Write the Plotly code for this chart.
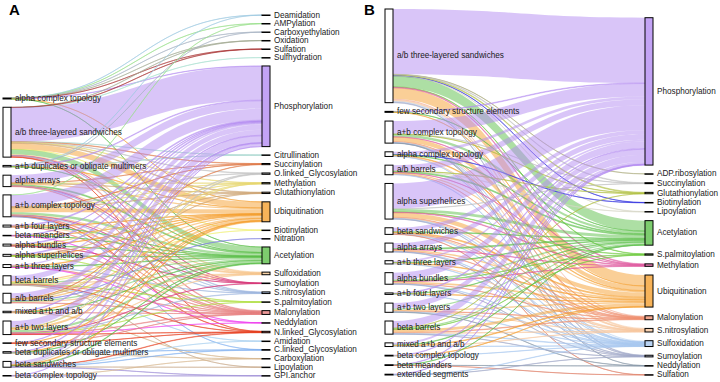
import plotly.graph_objects as go

FIG_W, FIG_H = 720, 382

# ---------------- Panel A data ----------------
a_left = ["alpha complex topology", "a/b three-layered sandwiches", "a+b duplicates or obligate multimers",
          "alpha arrays", "a+b complex topology", "a+b four layers", "beta meanders", "alpha bundles",
          "alpha superhelices", "a+b three layers", "beta barrels", "a/b barrels", "mixed a+b and a/b",
          "a+b two layers", "few secondary structure elements", "beta duplicates or obligate multimers",
          "beta sandwiches", "beta complex topology"]
a_right = ["Deamidation", "AMPylation", "Carboxyethylation", "Oxidation", "Sulfation", "Sulfhydration",
           "Phosphorylation", "Citrullination", "Succinylation", "O.linked_Glycosylation", "Methylation",
           "Glutathionylation", "Ubiquitination", "Biotinylation", "Nitration", "Acetylation", "Sulfoxidation",
           "Sumoylation", "S.nitrosylation", "S.palmitoylation", "Malonylation", "Neddylation",
           "N.linked_Glycosylation", "Amidation", "C.linked_Glycosylation", "Carboxylation", "Lipoylation",
           "GPI.anchor"]
a_links = [
    ("alpha complex topology", "Deamidation", 1), ("alpha complex topology", "AMPylation", 1),
    ("alpha complex topology", "Carboxyethylation", 1), ("alpha complex topology", "Oxidation", 1),
    ("alpha complex topology", "Sulfation", 1), ("alpha complex topology", "Phosphorylation", 3),
    ("alpha complex topology", "Ubiquitination", 1), ("alpha complex topology", "Acetylation", 1),
    ("a/b three-layered sandwiches", "Sulfhydration", 1), ("a/b three-layered sandwiches", "Oxidation", 1),
    ("a/b three-layered sandwiches", "Sulfation", 2), ("a/b three-layered sandwiches", "Phosphorylation", 350),
    ("a/b three-layered sandwiches", "Citrullination", 2), ("a/b three-layered sandwiches", "Succinylation", 4),
    ("a/b three-layered sandwiches", "O.linked_Glycosylation", 3), ("a/b three-layered sandwiches", "Methylation", 4),
    ("a/b three-layered sandwiches", "Glutathionylation", 6), ("a/b three-layered sandwiches", "Ubiquitination", 60),
    ("a/b three-layered sandwiches", "Biotinylation", 1), ("a/b three-layered sandwiches", "Acetylation", 55),
    ("a/b three-layered sandwiches", "Sulfoxidation", 8), ("a/b three-layered sandwiches", "Sumoylation", 2),
    ("a/b three-layered sandwiches", "S.nitrosylation", 6), ("a/b three-layered sandwiches", "Malonylation", 8),
    ("a/b three-layered sandwiches", "N.linked_Glycosylation", 2),
    ("a+b duplicates or obligate multimers", "Deamidation", 1), ("a+b duplicates or obligate multimers", "Carboxyethylation", 1),
    ("a+b duplicates or obligate multimers", "Phosphorylation", 7), ("a+b duplicates or obligate multimers", "Citrullination", 1),
    ("a+b duplicates or obligate multimers", "Ubiquitination", 3), ("a+b duplicates or obligate multimers", "Acetylation", 2),
    ("alpha arrays", "Phosphorylation", 80), ("alpha arrays", "Succinylation", 2), ("alpha arrays", "Methylation", 2),
    ("alpha arrays", "Glutathionylation", 2), ("alpha arrays", "Ubiquitination", 12), ("alpha arrays", "Acetylation", 10),
    ("alpha arrays", "Sulfoxidation", 3), ("alpha arrays", "Sumoylation", 1), ("alpha arrays", "S.nitrosylation", 2),
    ("alpha arrays", "Malonylation", 4),
    ("a+b complex topology", "AMPylation", 1), ("a+b complex topology", "Phosphorylation", 120),
    ("a+b complex topology", "Succinylation", 3), ("a+b complex topology", "O.linked_Glycosylation", 4),
    ("a+b complex topology", "Methylation", 3), ("a+b complex topology", "Glutathionylation", 3),
    ("a+b complex topology", "Ubiquitination", 45), ("a+b complex topology", "Acetylation", 25),
    ("a+b complex topology", "Sulfoxidation", 5), ("a+b complex topology", "Sumoylation", 1),
    ("a+b complex topology", "S.nitrosylation", 4), ("a+b complex topology", "Malonylation", 7),
    ("a+b complex topology", "N.linked_Glycosylation", 3), ("a+b complex topology", "C.linked_Glycosylation", 2),
    ("a+b four layers", "Phosphorylation", 10), ("a+b four layers", "Ubiquitination", 4), ("a+b four layers", "Acetylation", 3),
    ("a+b four layers", "Sulfoxidation", 1), ("a+b four layers", "Malonylation", 2),
    ("beta meanders", "Phosphorylation", 2), ("beta meanders", "Ubiquitination", 1), ("beta meanders", "Acetylation", 1),
    ("beta meanders", "Neddylation", 1),
    ("alpha bundles", "Phosphorylation", 9), ("alpha bundles", "Methylation", 1), ("alpha bundles", "Ubiquitination", 4),
    ("alpha bundles", "Acetylation", 4), ("alpha bundles", "Sumoylation", 1), ("alpha bundles", "Malonylation", 1),
    ("alpha superhelices", "Phosphorylation", 10), ("alpha superhelices", "Glutathionylation", 1),
    ("alpha superhelices", "Ubiquitination", 4), ("alpha superhelices", "Acetylation", 4), ("alpha superhelices", "S.palmitoylation", 1),
    ("a+b three layers", "Phosphorylation", 14), ("a+b three layers", "Ubiquitination", 6), ("a+b three layers", "Acetylation", 6),
    ("a+b three layers", "S.nitrosylation", 1), ("a+b three layers", "Malonylation", 2), ("a+b three layers", "Neddylation", 1),
    ("beta barrels", "Phosphorylation", 55), ("beta barrels", "Ubiquitination", 14), ("beta barrels", "Biotinylation", 1),
    ("beta barrels", "Acetylation", 12), ("beta barrels", "Sulfoxidation", 3), ("beta barrels", "S.palmitoylation", 2),
    ("beta barrels", "Malonylation", 4), ("beta barrels", "N.linked_Glycosylation", 2), ("beta barrels", "Amidation", 1),
    ("beta barrels", "Lipoylation", 1),
    ("a/b barrels", "Phosphorylation", 55), ("a/b barrels", "Succinylation", 3), ("a/b barrels", "Methylation", 2),
    ("a/b barrels", "Glutathionylation", 2), ("a/b barrels", "Ubiquitination", 15), ("a/b barrels", "Nitration", 1),
    ("a/b barrels", "Acetylation", 15), ("a/b barrels", "Sulfoxidation", 3), ("a/b barrels", "Malonylation", 4),
    ("mixed a+b and a/b", "Phosphorylation", 7), ("mixed a+b and a/b", "Ubiquitination", 3), ("mixed a+b and a/b", "Acetylation", 3),
    ("mixed a+b and a/b", "Malonylation", 1), ("mixed a+b and a/b", "Carboxylation", 1),
    ("a+b two layers", "Phosphorylation", 70), ("a+b two layers", "O.linked_Glycosylation", 2), ("a+b two layers", "Methylation", 1),
    ("a+b two layers", "Ubiquitination", 22), ("a+b two layers", "Acetylation", 25), ("a+b two layers", "Sulfoxidation", 4),
    ("a+b two layers", "Sumoylation", 1), ("a+b two layers", "S.nitrosylation", 4), ("a+b two layers", "S.palmitoylation", 2),
    ("a+b two layers", "Malonylation", 5), ("a+b two layers", "Neddylation", 1), ("a+b two layers", "N.linked_Glycosylation", 3),
    ("few secondary structure elements", "Phosphorylation", 2), ("few secondary structure elements", "Ubiquitination", 1),
    ("few secondary structure elements", "Malonylation", 1), ("few secondary structure elements", "N.linked_Glycosylation", 1),
    ("beta duplicates or obligate multimers", "Phosphorylation", 7), ("beta duplicates or obligate multimers", "Ubiquitination", 3),
    ("beta duplicates or obligate multimers", "Acetylation", 2), ("beta duplicates or obligate multimers", "C.linked_Glycosylation", 2),
    ("beta duplicates or obligate multimers", "Carboxylation", 1),
    ("beta sandwiches", "Phosphorylation", 30), ("beta sandwiches", "O.linked_Glycosylation", 5), ("beta sandwiches", "Ubiquitination", 8),
    ("beta sandwiches", "Acetylation", 6), ("beta sandwiches", "N.linked_Glycosylation", 4), ("beta sandwiches", "Amidation", 1),
    ("beta sandwiches", "C.linked_Glycosylation", 3), ("beta sandwiches", "Lipoylation", 1), ("beta sandwiches", "GPI.anchor", 2),
    ("beta complex topology", "Phosphorylation", 2), ("beta complex topology", "Carboxylation", 1), ("beta complex topology", "GPI.anchor", 2),
]

# ---------------- Panel B data ----------------
b_left = ["a/b three-layered sandwiches", "few secondary structure elements", "a+b complex topology",
          "alpha complex topology", "a/b barrels", "alpha superhelices", "beta sandwiches", "alpha arrays",
          "a+b three layers", "alpha bundles", "a+b four layers", "a+b two layers", "beta barrels",
          "mixed a+b and a/b", "beta complex topology", "beta meanders", "extended segments"]
b_right = ["Phosphorylation", "ADP.ribosylation", "Succinylation", "Glutathionylation", "Biotinylation",
           "Lipoylation", "Acetylation", "S.palmitoylation", "Methylation", "Ubiquitination", "Malonylation",
           "S.nitrosylation", "Sulfoxidation", "Sumoylation", "Neddylation", "Sulfation"]
b_links = [
    ("a/b three-layered sandwiches", "Phosphorylation", 660), ("a/b three-layered sandwiches", "ADP.ribosylation", 2),
    ("a/b three-layered sandwiches", "Succinylation", 6), ("a/b three-layered sandwiches", "Glutathionylation", 8),
    ("a/b three-layered sandwiches", "Biotinylation", 2), ("a/b three-layered sandwiches", "Lipoylation", 3),
    ("a/b three-layered sandwiches", "Acetylation", 105), ("a/b three-layered sandwiches", "S.palmitoylation", 4),
    ("a/b three-layered sandwiches", "Methylation", 8), ("a/b three-layered sandwiches", "Ubiquitination", 110),
    ("a/b three-layered sandwiches", "Malonylation", 12), ("a/b three-layered sandwiches", "S.nitrosylation", 10),
    ("a/b three-layered sandwiches", "Sulfoxidation", 12), ("a/b three-layered sandwiches", "Sumoylation", 5),
    ("few secondary structure elements", "Phosphorylation", 6), ("few secondary structure elements", "Acetylation", 2),
    ("few secondary structure elements", "Ubiquitination", 2),
    ("a+b complex topology", "Phosphorylation", 130), ("a+b complex topology", "Succinylation", 2),
    ("a+b complex topology", "Glutathionylation", 2), ("a+b complex topology", "Acetylation", 25),
    ("a+b complex topology", "Methylation", 3), ("a+b complex topology", "Ubiquitination", 45),
    ("a+b complex topology", "Malonylation", 4), ("a+b complex topology", "S.nitrosylation", 4),
    ("a+b complex topology", "Sulfoxidation", 5), ("a+b complex topology", "Sumoylation", 2),
    ("a+b complex topology", "Neddylation", 1),
    ("alpha complex topology", "Phosphorylation", 28), ("alpha complex topology", "Biotinylation", 2),
    ("alpha complex topology", "Acetylation", 6), ("alpha complex topology", "Ubiquitination", 7),
    ("alpha complex topology", "S.nitrosylation", 2), ("alpha complex topology", "Sulfoxidation", 2),
    ("a/b barrels", "Phosphorylation", 60), ("a/b barrels", "Glutathionylation", 3), ("a/b barrels", "Lipoylation", 1),
    ("a/b barrels", "Acetylation", 10), ("a/b barrels", "Methylation", 2), ("a/b barrels", "Ubiquitination", 14),
    ("a/b barrels", "Malonylation", 3), ("a/b barrels", "Sulfoxidation", 4),
    ("alpha superhelices", "Phosphorylation", 255), ("alpha superhelices", "Succinylation", 2),
    ("alpha superhelices", "Acetylation", 30), ("alpha superhelices", "S.palmitoylation", 4),
    ("alpha superhelices", "Methylation", 6), ("alpha superhelices", "Ubiquitination", 45),
    ("alpha superhelices", "Malonylation", 5), ("alpha superhelices", "S.nitrosylation", 5),
    ("alpha superhelices", "Sulfoxidation", 6), ("alpha superhelices", "Sumoylation", 2),
    ("beta sandwiches", "Phosphorylation", 40), ("beta sandwiches", "Acetylation", 6), ("beta sandwiches", "Ubiquitination", 10),
    ("beta sandwiches", "Malonylation", 2), ("beta sandwiches", "S.nitrosylation", 3), ("beta sandwiches", "Sulfoxidation", 4),
    ("beta sandwiches", "Sulfation", 2),
    ("alpha arrays", "Phosphorylation", 55), ("alpha arrays", "Acetylation", 10), ("alpha arrays", "Methylation", 3),
    ("alpha arrays", "Ubiquitination", 14), ("alpha arrays", "Malonylation", 3), ("alpha arrays", "Sulfoxidation", 3),
    ("alpha arrays", "Sumoylation", 2),
    ("a+b three layers", "Phosphorylation", 18), ("a+b three layers", "Acetylation", 5), ("a+b three layers", "Ubiquitination", 6),
    ("a+b three layers", "S.nitrosylation", 2), ("a+b three layers", "Sulfoxidation", 2),
    ("alpha bundles", "Phosphorylation", 70), ("alpha bundles", "Acetylation", 15), ("alpha bundles", "S.palmitoylation", 3),
    ("alpha bundles", "Methylation", 3), ("alpha bundles", "Ubiquitination", 18), ("alpha bundles", "Malonylation", 3),
    ("alpha bundles", "Sulfoxidation", 3), ("alpha bundles", "Sumoylation", 2),
    ("a+b four layers", "Phosphorylation", 8), ("a+b four layers", "Acetylation", 3), ("a+b four layers", "Ubiquitination", 3),
    ("a+b four layers", "Sulfoxidation", 1),
    ("a+b two layers", "Phosphorylation", 55), ("a+b two layers", "Acetylation", 12), ("a+b two layers", "Ubiquitination", 14),
    ("a+b two layers", "Malonylation", 3), ("a+b two layers", "S.nitrosylation", 3), ("a+b two layers", "Sulfoxidation", 4),
    ("a+b two layers", "Neddylation", 2),
    ("beta barrels", "Phosphorylation", 72), ("beta barrels", "Glutathionylation", 1), ("beta barrels", "Acetylation", 12),
    ("beta barrels", "S.palmitoylation", 2), ("beta barrels", "Ubiquitination", 28), ("beta barrels", "Malonylation", 5),
    ("beta barrels", "S.nitrosylation", 5), ("beta barrels", "Sulfoxidation", 6), ("beta barrels", "Sumoylation", 2),
    ("mixed a+b and a/b", "Phosphorylation", 22), ("mixed a+b and a/b", "Acetylation", 5), ("mixed a+b and a/b", "Ubiquitination", 6),
    ("mixed a+b and a/b", "S.nitrosylation", 2), ("mixed a+b and a/b", "Sulfoxidation", 2),
    ("beta complex topology", "Phosphorylation", 4), ("beta complex topology", "Ubiquitination", 2),
    ("beta complex topology", "Sulfoxidation", 2),
    ("beta meanders", "Phosphorylation", 4), ("beta meanders", "Acetylation", 2), ("beta meanders", "Neddylation", 1),
    ("beta meanders", "Sulfation", 1),
    ("extended segments", "Phosphorylation", 3), ("extended segments", "Sulfoxidation", 3), ("extended segments", "Sumoylation", 2),
]

# ---------------- colours (style) ----------------
a_colors = {
    "Deamidation": "#9ecae1", "AMPylation": "#98df8a", "Carboxyethylation": "#a8b4c4", "Oxidation": "#a0a890",
    "Sulfation": "#a83030", "Sulfhydration": "#a8e0d0", "Phosphorylation": "#b48cf2", "Citrullination": "#a8d8d0",
    "Succinylation": "#e07a48", "O.linked_Glycosylation": "#c4c4c4", "Methylation": "#e8d870",
    "Glutathionylation": "#d0a878", "Ubiquitination": "#f5a030", "Biotinylation": "#f0f070", "Nitration": "#8080e0",
    "Acetylation": "#5cc04a", "Sulfoxidation": "#f8c890", "Sumoylation": "#d83a7a", "S.nitrosylation": "#9fb8e0",
    "S.palmitoylation": "#b0e040", "Malonylation": "#e88080", "Neddylation": "#f040f0",
    "N.linked_Glycosylation": "#e84020", "Amidation": "#a8d0f0", "C.linked_Glycosylation": "#80b0f0",
    "Carboxylation": "#d8b890", "Lipoylation": "#c8a888", "GPI.anchor": "#a090d8",
}
b_colors = {
    "Phosphorylation": "#b48cf2", "ADP.ribosylation": "#a8a878", "Succinylation": "#c0c0c0",
    "Glutathionylation": "#b0c040", "Biotinylation": "#3030e0", "Lipoylation": "#d8d8c8", "Acetylation": "#5cc04a",
    "S.palmitoylation": "#70cc40", "Methylation": "#e05aa0", "Ubiquitination": "#f5a030", "Malonylation": "#f09070",
    "S.nitrosylation": "#f8c8a0", "Sulfoxidation": "#a8c8f0", "Sumoylation": "#a0a8c8", "Neddylation": "#8898a8",
    "Sulfation": "#e08068",
}

FONT = "Arial, Liberation Sans, sans-serif"
LABEL_SIZE = 8.2
THICK = 8


def rgba(hexc, a):
    h = hexc.lstrip("#")
    r, g, b = int(h[0:2], 16), int(h[2:4], 16), int(h[4:6], 16)
    return f"rgba({r},{g},{b},{a})"


def darker(hexc, f=0.7):
    h = hexc.lstrip("#")
    r, g, b = int(h[0:2], 16), int(h[2:4], 16), int(h[4:6], 16)
    return f"rgb({int(r*f)},{int(g*f)},{int(b*f)})"


def build_panel(left, right, links, colors, pad, dom_x_px, dom_y_px):
    names = left + right
    idx = {n: i for i, n in enumerate(names)}
    src = [idx[s] for s, t, v in links]
    tgt = [idx[t] for s, t, v in links]
    val = [v for s, t, v in links]
    out_sum = [0] * len(names)
    in_sum = [0] * len(names)
    for s, t, v in zip(src, tgt, val):
        out_sum[s] += v
        in_sum[t] += v
    node_val = [max(o, i) for o, i in zip(out_sum, in_sum)]
    Hd = dom_y_px[1] - dom_y_px[0]
    Wd = dom_x_px[1] - dom_x_px[0]
    cols = [left, right]
    ky = min((Hd - (len(c) - 1) * pad) / sum(node_val[idx[n]] for n in c) for c in cols)
    ys = [0.0] * len(names)
    xs = [0.0] * len(names)
    for ci, col in enumerate(cols):
        heights = [node_val[idx[n]] * ky for n in col]
        total = sum(heights) + (len(col) - 1) * pad
        y = Hd - total  # bottom-aligned column
        for n, h in zip(col, heights):
            ys[idx[n]] = (y + h / 2) / Hd
            xs[idx[n]] = (THICK / 2) / Wd if ci == 0 else 1 - (THICK / 2) / Wd
            y += h + pad
    node_fill = ["rgba(255,255,255,1)"] * len(left) + [rgba(colors[n], 0.8) for n in right]
    node_line = ["#a6a6a6"] * len(left) + [darker(colors[n]) for n in right]
    link_col = [rgba(colors[names[t]], 0.5) for t in tgt]
    trace = go.Sankey(
        arrangement="fixed",
        domain=dict(x=[dom_x_px[0] / FIG_W, dom_x_px[1] / FIG_W],
                    y=[1 - dom_y_px[1] / FIG_H, 1 - dom_y_px[0] / FIG_H]),
        node=dict(label=[""] * len(names), customdata=names, x=xs, y=ys, pad=pad, thickness=THICK,
                  color=node_fill, line=dict(color=node_line, width=1),
                  hovertemplate="%{customdata}: %{value}<extra></extra>"),
        link=dict(source=src, target=tgt, value=val, color=link_col),
    )
    anns = []
    for ci, col in enumerate(cols):
        for n in col:
            i = idx[n]
            xpx = dom_x_px[0] + xs[i] * Wd + THICK / 2 + 3.2
            ypx = dom_y_px[0] + ys[i] * Hd
            anns.append(dict(text=n, x=xpx / FIG_W, y=1 - ypx / FIG_H, xref="paper", yref="paper",
                             xanchor="left", yanchor="middle", showarrow=False, borderpad=0,
                             font=dict(family=FONT, size=LABEL_SIZE, color="#1a1a1a")))
    return trace, anns


trace_a, anns_a = build_panel(a_left, a_right, a_links, a_colors, 8.3, (3, 270), (15, 376))
trace_b, anns_b = build_panel(b_left, b_right, b_links, b_colors, 8.7, (385, 653), (9, 375))

panel_letters = [
    dict(text="<b>A</b>", x=7 / FIG_W, y=1 - 10 / FIG_H, xref="paper", yref="paper", xanchor="left",
         yanchor="middle", showarrow=False, font=dict(family=FONT, size=15, color="#000")),
    dict(text="<b>B</b>", x=362 / FIG_W, y=1 - 10 / FIG_H, xref="paper", yref="paper", xanchor="left",
         yanchor="middle", showarrow=False, font=dict(family=FONT, size=15, color="#000")),
]

fig = go.Figure([trace_a, trace_b])
fig.update_layout(width=FIG_W, height=FIG_H, margin=dict(l=0, r=0, t=0, b=0),
                  paper_bgcolor="white", plot_bgcolor="white",
                  font=dict(family=FONT, size=LABEL_SIZE),
                  annotations=anns_a + anns_b + panel_letters)
fig.write_html("out.html", config={"displayModeBar": False},
               post_script="document.body.style.margin='0';document.body.style.overflow='hidden';")
